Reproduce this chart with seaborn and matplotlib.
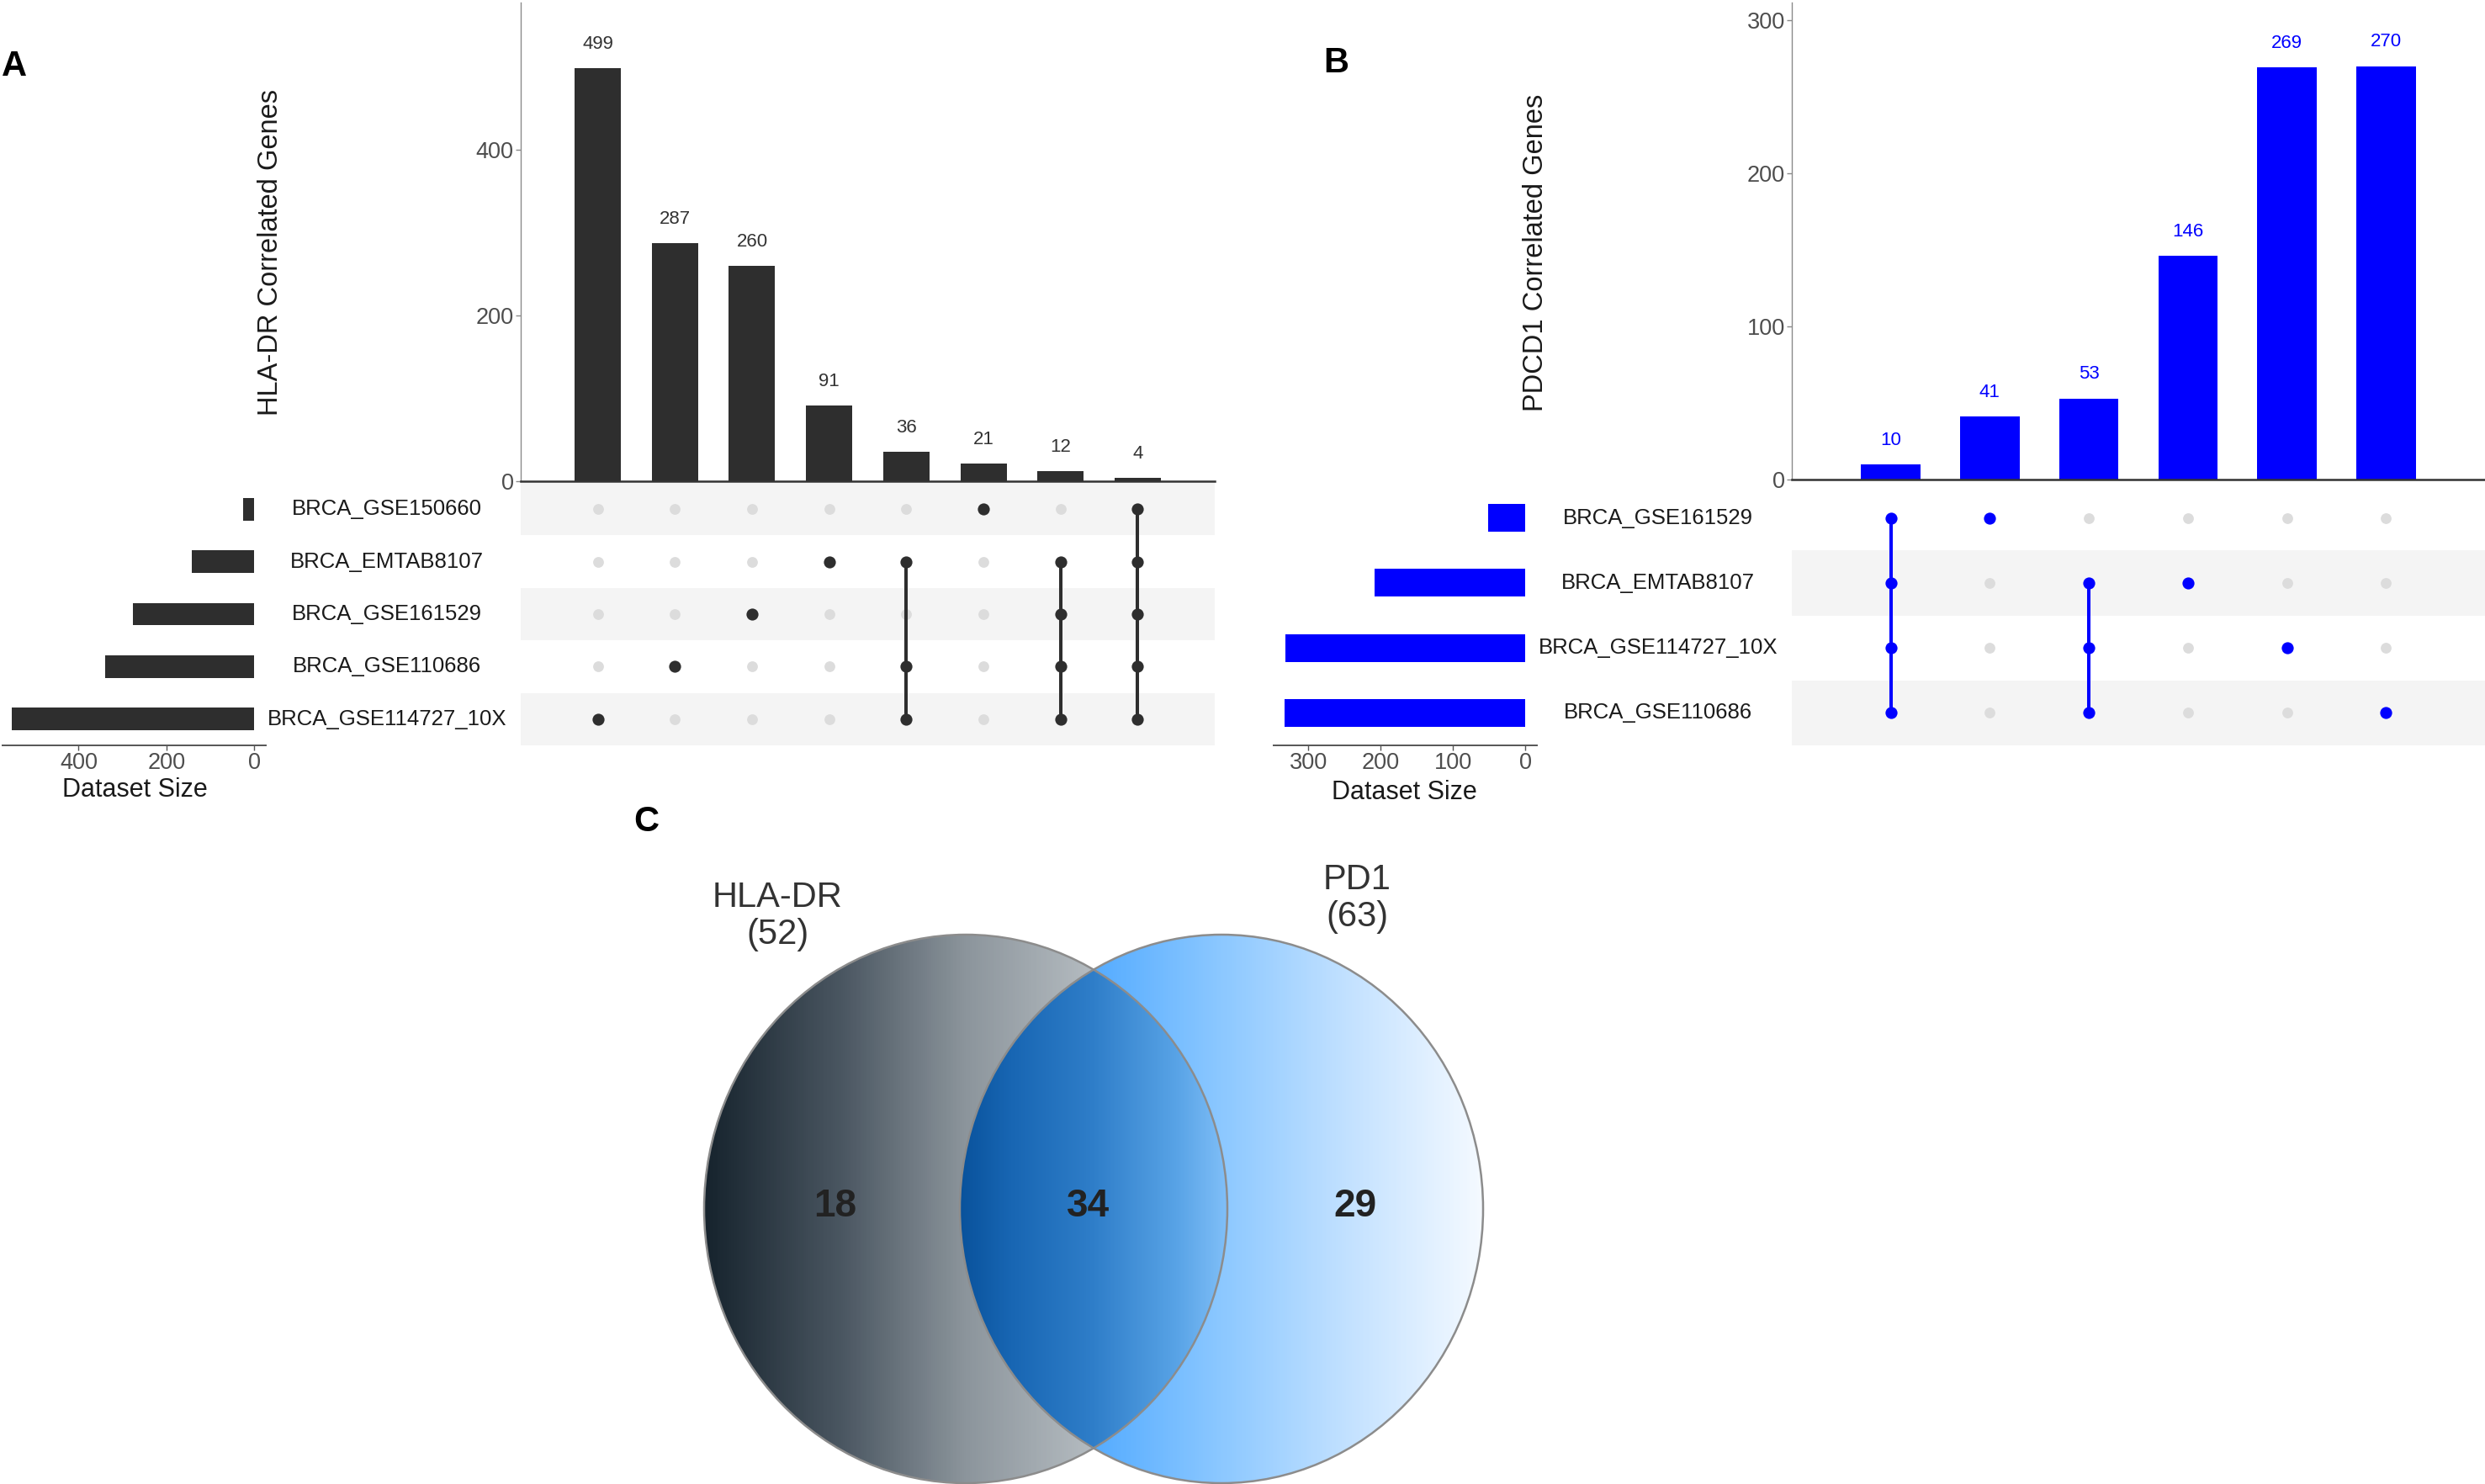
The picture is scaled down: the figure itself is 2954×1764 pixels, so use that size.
import numpy as np
import pandas as pd
import matplotlib
matplotlib.use("Agg")
import matplotlib.pyplot as plt
import matplotlib.transforms as mtransforms
from matplotlib.patches import Ellipse
from matplotlib.colors import LinearSegmentedColormap
import seaborn as sns

# ---------------- data ----------------
# Panel A (HLA-DR)
sets_A = ["BRCA_GSE150660", "BRCA_EMTAB8107", "BRCA_GSE161529", "BRCA_GSE110686", "BRCA_GSE114727_10X"]
set_sizes_A = [25, 143, 276, 339, 551]
inter_counts_A = [499, 287, 260, 91, 36, 21, 12, 4]
inter_members_A = [
    ["BRCA_GSE114727_10X"],
    ["BRCA_GSE110686"],
    ["BRCA_GSE161529"],
    ["BRCA_EMTAB8107"],
    ["BRCA_EMTAB8107", "BRCA_GSE110686", "BRCA_GSE114727_10X"],
    ["BRCA_GSE150660"],
    ["BRCA_EMTAB8107", "BRCA_GSE161529", "BRCA_GSE110686", "BRCA_GSE114727_10X"],
    ["BRCA_GSE150660", "BRCA_EMTAB8107", "BRCA_GSE161529", "BRCA_GSE110686", "BRCA_GSE114727_10X"],
]
yticks_A = [0, 200, 400]
size_ticks_A = [0, 200, 400]

# Panel B (PDCD1)
sets_B = ["BRCA_GSE161529", "BRCA_EMTAB8107", "BRCA_GSE114727_10X", "BRCA_GSE110686"]
set_sizes_B = [51, 209, 332, 333]
inter_counts_B = [10, 41, 53, 146, 269, 270]
inter_members_B = [
    ["BRCA_GSE161529", "BRCA_EMTAB8107", "BRCA_GSE114727_10X", "BRCA_GSE110686"],
    ["BRCA_GSE161529"],
    ["BRCA_EMTAB8107", "BRCA_GSE114727_10X", "BRCA_GSE110686"],
    ["BRCA_EMTAB8107"],
    ["BRCA_GSE114727_10X"],
    ["BRCA_GSE110686"],
]
yticks_B = [0, 100, 200, 300]
size_ticks_B = [0, 100, 200, 300]

# Panel C (Venn)
venn_names = ["HLA-DR", "PD1"]
venn_totals = [52, 63]
venn_regions = [18, 34, 29]   # only-left, both, only-right

# ---------------- setup ----------------
sns.set_theme(style="white")
plt.rcParams["font.family"] = ["Liberation Sans", "DejaVu Sans"]

W, H = 2954, 1764
fig = plt.figure(figsize=(W / 100, H / 100), dpi=100)


def rect(l, t, r, b):
    return [l / W, 1 - b / H, (r - l) / W, (b - t) / H]


TICK_COL = "#4d4d4d"


def upset(bar_r, mat_r, size_r, label_x, ylab_xy, ds_xy, sets, sizes, counts, members,
          color, count_color, ymax, yticks, size_xlim, size_ticks, ylabel):
    n = len(counts)
    m = len(sets)
    # ---- intersection bars ----
    ax_bar = fig.add_axes(rect(*bar_r))
    df = pd.DataFrame({"combo": [f"c{i}" for i in range(n)], "count": counts})
    sns.barplot(data=df, x="combo", y="count", order=list(df["combo"]), ax=ax_bar,
                color=color, saturation=1, width=0.6, linewidth=0)
    ax_bar.set_xlim(-1, n)
    ax_bar.set_ylim(0, ymax)
    ax_bar.set_yticks(yticks)
    ax_bar.set_xticks([])
    ax_bar.set_xlabel("")
    ax_bar.set_ylabel("")
    for s in ["top", "right"]:
        ax_bar.spines[s].set_visible(False)
    ax_bar.spines["left"].set_color("#8a8a8a")
    ax_bar.spines["left"].set_linewidth(1.0)
    ax_bar.spines["bottom"].set_color("#333333")
    ax_bar.spines["bottom"].set_linewidth(1.8)
    ax_bar.tick_params(axis="y", left=True, length=4, width=1, color="#8a8a8a",
                       labelsize=19.5, labelcolor=TICK_COL, pad=2)
    ax_bar.bar_label(ax_bar.containers[0], labels=[str(c) for c in counts], padding=13,
                     fontsize=16, color=count_color)
    ax_bar.patch.set_alpha(0)

    # ---- matrix ----
    ax_mat = fig.add_axes(rect(*mat_r))
    ax_mat.set_xlim(-1, n)
    ax_mat.set_ylim(m - 0.5, -0.5)
    for i in range(m):
        if (m - 1 - i) % 2 == 0:
            ax_mat.axhspan(i - 0.5, i + 0.5, color="#f4f4f4", lw=0, zorder=0)
    rows = []
    for c, mem in enumerate(members):
        for r, s in enumerate(sets):
            rows.append({"col": c, "row": r, "active": s in mem})
    dots = pd.DataFrame(rows)
    sns.scatterplot(data=dots[~dots["active"]], x="col", y="row", ax=ax_mat,
                    color="#dcdcdc", s=85, linewidth=0, zorder=2, legend=False)
    for c, mem in enumerate(members):
        idx = [sets.index(s) for s in mem]
        if len(idx) > 1:
            ax_mat.plot([c, c], [min(idx), max(idx)], color=color, lw=2.9,
                        solid_capstyle="butt", zorder=3)
    sns.scatterplot(data=dots[dots["active"]], x="col", y="row", ax=ax_mat,
                    color=color, s=105, linewidth=0, zorder=4, legend=False)
    ax_mat.set_xlim(-1, n)
    ax_mat.set_ylim(m - 0.5, -0.5)
    ax_mat.axis("off")

    tr = mtransforms.blended_transform_factory(fig.transFigure, ax_mat.transData)
    for i, s in enumerate(sets):
        ax_mat.text(label_x / W, i, s, transform=tr, ha="center", va="center",
                    fontsize=18.5, color="#1a1a1a")

    # ---- set sizes ----
    ax_sz = fig.add_axes(rect(*size_r))
    sdf = pd.DataFrame({"set": sets, "size": sizes})
    sns.barplot(data=sdf, x="size", y="set", order=sets, orient="h", ax=ax_sz,
                color=color, saturation=1, width=0.43, linewidth=0)
    ax_sz.set_ylim(m - 0.5, -0.5)
    ax_sz.set_xlim(*size_xlim)
    ax_sz.set_xticks(size_ticks)
    ax_sz.set_yticks([])
    ax_sz.set_xlabel("")
    ax_sz.set_ylabel("")
    for s in ["top", "right", "left"]:
        ax_sz.spines[s].set_visible(False)
    ax_sz.spines["bottom"].set_color("#555555")
    ax_sz.spines["bottom"].set_linewidth(1.4)
    ax_sz.tick_params(axis="x", bottom=True, length=4, width=1, color="#555555",
                      labelsize=19.5, labelcolor=TICK_COL, pad=2)
    ax_sz.patch.set_alpha(0)

    fig.text(ds_xy[0] / W, 1 - ds_xy[1] / H, "Dataset Size", ha="center", va="center",
             fontsize=22, color="#1a1a1a")
    fig.text(ylab_xy[0] / W, 1 - ylab_xy[1] / H, ylabel, ha="center", va="center",
             rotation=90, fontsize=23.5, color="#1a1a1a")


upset((619, 3, 1444, 572), (619, 574, 1444, 886), (3, 574, 316, 886), 460,
      (322, 300), (160, 939), sets_A, set_sizes_A, inter_counts_A, inter_members_A,
      "#2e2e2e", "#333333", 578, yticks_A, (573, -26), size_ticks_A,
      "HLA-DR Correlated Genes")

upset((2130, 3, 2954, 570), (2130, 577, 2954, 886), (1514, 577, 1827, 886), 1971,
      (1825, 300), (1669, 942), sets_B, set_sizes_B, inter_counts_B, inter_members_B,
      "#0000ff", "#0000ff", 311.5, yticks_B, (348, -16), size_ticks_B,
      "PDCD1 Correlated Genes")

# ---------------- Venn (panel C) ----------------
ax_v = fig.add_axes(rect(700, 950, 1900, 1764))
ax_v.set_xlim(700, 1900)
ax_v.set_ylim(1764, 950)
ax_v.axis("off")

cxL, cxR, cy, a, b = 1148, 1452, 1437, 311, 326
xs = np.arange(700, 1900) + 0.5
ys = np.arange(950, 1764) + 0.5
X, Y = np.meshgrid(xs, ys)
inL = ((X - cxL) / a) ** 2 + ((Y - cy) / b) ** 2 <= 1
inR = ((X - cxR) / a) ** 2 + ((Y - cy) / b) ** 2 <= 1

cmL = LinearSegmentedColormap.from_list("L", [(0, "#16232d"), (0.26, "#4a5661"), (0.5, "#8c959c"),
                                              (0.74, "#b4bbc0"), (1, "#c8cdd2")])
cmR = LinearSegmentedColormap.from_list("R", [(0, "#44a1ff"), (0.256, "#55acff"), (0.51, "#8ec9ff"),
                                              (0.74, "#c2e1ff"), (1, "#f5faff")])
cmI = LinearSegmentedColormap.from_list("I", [(0, "#09529c"), (0.19, "#1866b3"), (0.5, "#2f7ec9"),
                                              (0.81, "#58a3e6"), (1, "#80bff8")])
img = np.zeros(X.shape + (4,))
tL = np.clip((X - (cxL - a)) / (2 * a), 0, 1)
tR = np.clip((X - (cxR - a)) / (2 * a), 0, 1)
tI = np.clip((X - (cxR - a)) / ((cxL + a) - (cxR - a)), 0, 1)
onlyL = inL & ~inR
onlyR = inR & ~inL
both = inL & inR
img[onlyL] = cmL(tL[onlyL])
img[onlyR] = cmR(tR[onlyR])
img[both] = cmI(tI[both])
ax_v.imshow(img, extent=(700, 1900, 1764, 950), origin="upper", interpolation="bilinear",
            aspect="auto", zorder=1)
for cx in (cxL, cxR):
    ax_v.add_patch(Ellipse((cx, cy), 2 * a, 2 * b, fill=False, ec="#8c8c8c", lw=1.8, zorder=2))
ax_v.set_xlim(700, 1900)
ax_v.set_ylim(1764, 950)

region_x = [(cxL - a + cxR - a) / 2 + 4, (cxR - a + cxL + a) / 2 - 6, (cxL + a + cxR + a) / 2]
for x, v in zip(region_x, venn_regions):
    ax_v.text(x, cy - 3, str(v), ha="center", va="center", fontsize=33, fontweight="bold",
              color="#222222", zorder=3)

name_pos = [(924, 1067, 1111), (1613, 1046, 1090)]
for (x, y1, y2), nm, tot in zip(name_pos, venn_names, venn_totals):
    ax_v.text(x, y1, nm, ha="center", va="center", fontsize=30, color="#333333")
    ax_v.text(x, y2, f"({tot})", ha="center", va="center", fontsize=30, color="#333333")

# ---------------- panel letters ----------------
for lab, (x, y) in zip(["A", "B", "C"], [(17, 79), (1588, 75), (768, 977)]):
    fig.text(x / W, 1 - y / H, lab, ha="center", va="center", fontsize=30,
             fontweight="bold", color="black")

fig.savefig("out.png", dpi=100)
